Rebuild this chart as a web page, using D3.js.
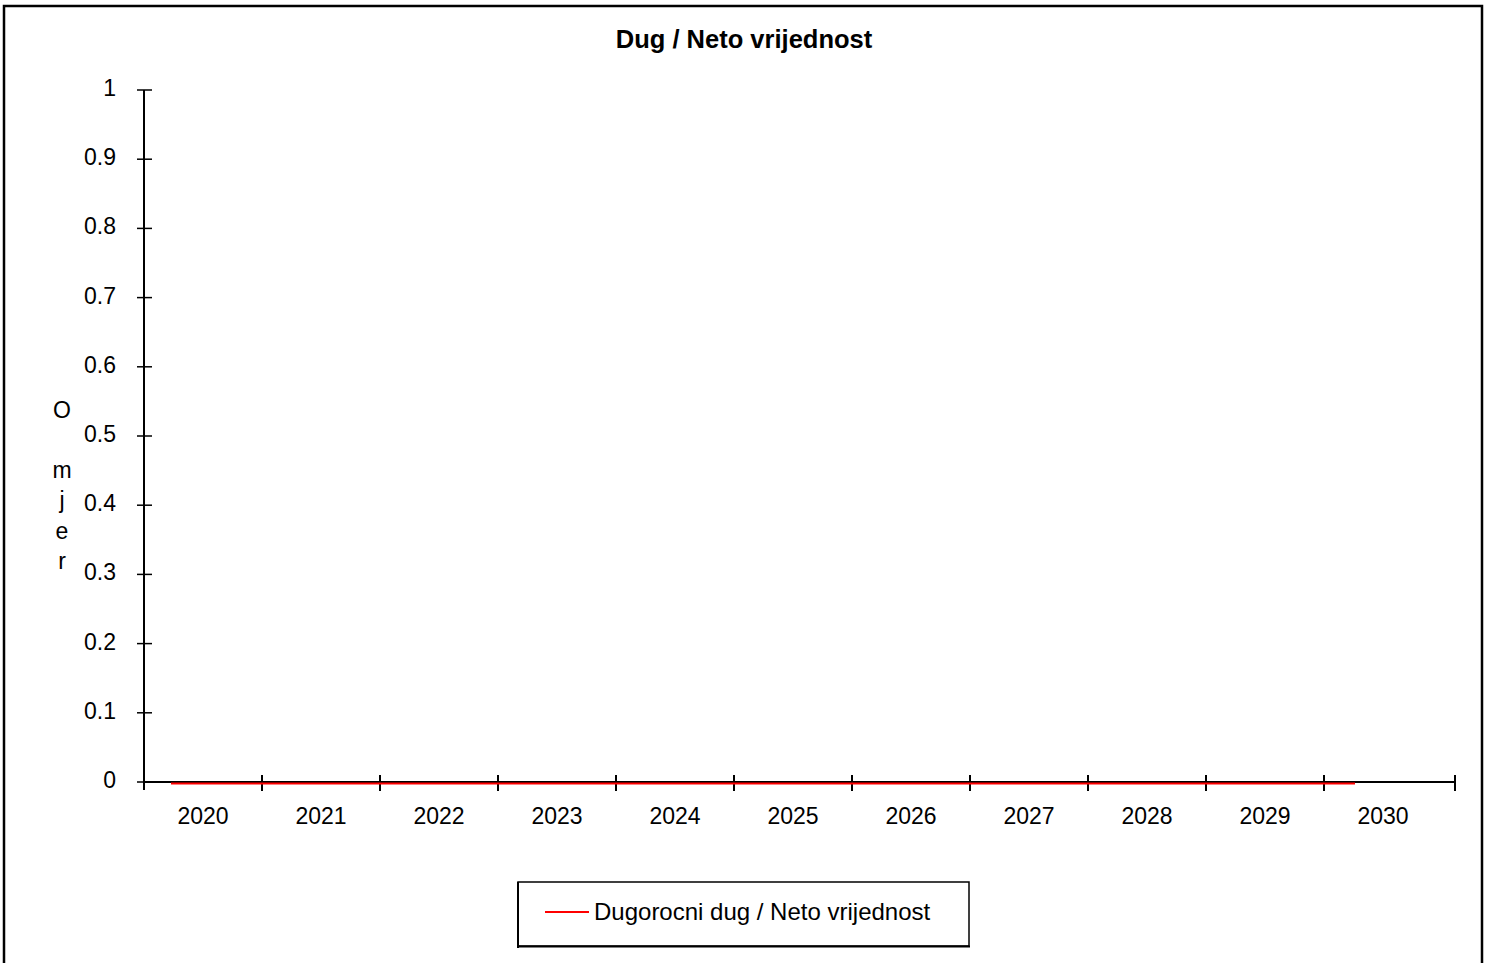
<!DOCTYPE html>
<html><head><meta charset="utf-8">
<script src="https://cdn.jsdelivr.net/npm/d3@7"></script>
<style>body{margin:0;background:#fff}svg{display:block;font-family:"Liberation Sans",Arial,sans-serif}</style>
</head><body>
<script>
const years = ["2020","2021","2022","2023","2024","2025","2026","2027","2028","2029","2030"];
const ratioValues = [0,0,0,0,0,0,0,0,0,0,0];
const yTicks = [0,0.1,0.2,0.3,0.4,0.5,0.6,0.7,0.8,0.9,1];
const titleText = "Dug / Neto vrijednost";
const yLabelLetters = ["O","m","j","e","r"];
const seriesName = "Dugorocni dug / Neto vrijednost";

const W = 1489, H = 963;
const svg = d3.select("body").append("svg").attr("width", W).attr("height", H);

// outer frame
svg.append("path").attr("d","M4,975 V6 H1482 V975").attr("fill","none").attr("stroke","#000").attr("stroke-width",2.5);

const x0 = 144, yBottom = 782, yTop = 90;
const xBand = d3.scaleBand().domain(years).range([x0, x0 + 118*years.length]).padding(0);
const xLine = d3.scalePoint().domain(years).range([171, 1355]);
const y = d3.scaleLinear().domain([0,1]).range([yBottom, yTop]);

// title
svg.append("text").attr("x",744).attr("y",48).attr("text-anchor","middle")
  .attr("font-size",25.5).attr("font-weight","bold").text(titleText);

// y axis
const gy = svg.append("g");
gy.append("line").attr("x1",x0).attr("x2",x0).attr("y1",y(1)).attr("y2",y(0)+8).attr("stroke","#000").attr("stroke-width",2);
gy.selectAll("line.t").data(yTicks).enter().append("line").attr("class","t")
  .attr("x1",x0-7).attr("x2",x0+8).attr("y1",d=>y(d)).attr("y2",d=>y(d)).attr("stroke","#000").attr("stroke-width",1.5);
gy.selectAll("text").data(yTicks).enter().append("text")
  .attr("x",116).attr("y",d=>y(d)+6).attr("text-anchor","end").attr("font-size",23)
  .text(d=>d3.format("")(d));

// x axis
const gx = svg.append("g");
gx.append("line").attr("x1",x0).attr("x2",1455).attr("y1",yBottom).attr("y2",yBottom).attr("stroke","#000").attr("stroke-width",2);
const tickXs = years.map(d=>xBand(d)+xBand.bandwidth()).slice(0,-1).concat([1455]);
gx.selectAll("line.t").data(tickXs).enter().append("line").attr("class","t")
  .attr("x1",d=>d).attr("x2",d=>d).attr("y1",yBottom-7).attr("y2",yBottom+9).attr("stroke","#000").attr("stroke-width",2);
gx.selectAll("text").data(years).enter().append("text")
  .attr("x",d=>xBand(d)+xBand.bandwidth()/2).attr("y",824).attr("text-anchor","middle").attr("font-size",23).text(d=>d);

// y label letters
const letterY = [418,478,508,539,569];
svg.selectAll("text.yl").data(yLabelLetters).enter().append("text").attr("class","yl")
  .attr("x",62).attr("y",(d,i)=>letterY[i]).attr("text-anchor","middle").attr("font-size",23).text(d=>d);

// series line
const line = d3.line().x((d,i)=>xLine(years[i])).y(d=>y(d)+1.5);
svg.append("path").datum(ratioValues).attr("d",line).attr("fill","none").attr("stroke","#ff0000").attr("stroke-width",2);

// legend
const lg = svg.append("g");
lg.append("rect").attr("x",518).attr("y",882).attr("width",451).attr("height",64).attr("fill","#fff").attr("stroke","#000").attr("stroke-width",1.5);
lg.append("line").attr("x1",518).attr("x2",518).attr("y1",882).attr("y2",948).attr("stroke","#000").attr("stroke-width",2);
lg.append("line").attr("x1",518).attr("x2",970).attr("y1",946.5).attr("y2",946.5).attr("stroke","#000").attr("stroke-width",2);
lg.append("line").attr("x1",545).attr("x2",589).attr("y1",912).attr("y2",912).attr("stroke","#ff0000").attr("stroke-width",2);
lg.append("text").attr("x",594).attr("y",920).attr("font-size",24).text(seriesName);
</script>
</body></html>
